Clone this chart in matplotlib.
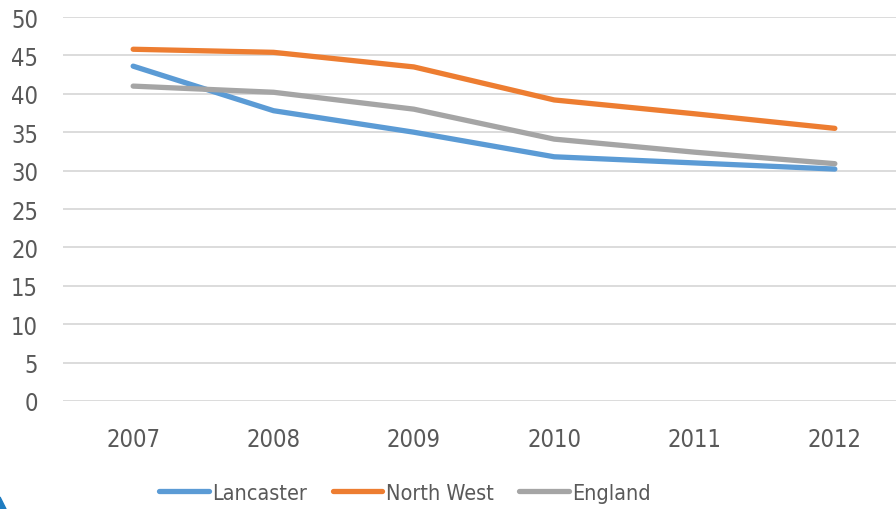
import matplotlib
matplotlib.use("Agg")
import matplotlib.pyplot as plt
from matplotlib.patches import Polygon

years = ["2007", "2008", "2009", "2010", "2011", "2012"]
lancaster = [43.6, 37.8, 35.0, 31.8, 31.0, 30.2]
north_west = [45.8, 45.4, 43.5, 39.2, 37.4, 35.5]
england = [41.0, 40.2, 38.0, 34.1, 32.4, 30.9]
yticks = [0, 5, 10, 15, 20, 25, 30, 35, 40, 45, 50]

plt.rcParams['font.family'] = ['DejaVu Sans']
plt.rcParams['font.stretch'] = 'condensed'
txt = '#595959'
fs = 17

W, H = 896, 510
fig = plt.figure(figsize=(W / 100, H / 100), dpi=100)
ax = fig.add_axes([63 / W, (H - 402) / H, 842 / W, 384 / H])

x = list(range(len(years)))
series = [("Lancaster", lancaster, '#5B9BD5'),
          ("North West", north_west, '#ED7D31'),
          ("England", england, '#A5A5A5')]
for name, vals, c in series:
    ax.plot(x, vals, color=c, lw=3.8, solid_capstyle='round',
            solid_joinstyle='round', label=name, zorder=3)

ax.set_xlim(-0.5, 5.5)
ax.set_ylim(0, 50)
ax.set_yticks(yticks)
ax.set_xticks(x)
ax.set_xticklabels(years)
ax.grid(axis='y', color='#D9D9D9', lw=1.3, zorder=0)
for s in ax.spines.values():
    s.set_visible(False)
ax.tick_params(axis='both', length=0, labelsize=fs, labelcolor=txt)
ax.tick_params(axis='y', pad=18)
ax.tick_params(axis='x', pad=19)

leg = fig.legend(loc='center', bbox_to_anchor=(405 / W, (H - 494) / H),
                 ncol=3, frameon=False, fontsize=15.5, handlelength=2.3,
                 handletextpad=0.15, columnspacing=1.2, labelcolor=txt)

fig.patches.append(Polygon([[0, 0], [6 / W, 0], [0, 12 / H]], closed=True,
                           transform=fig.transFigure, color='#1F7CC0'))

fig.savefig('out.png', dpi=100)
